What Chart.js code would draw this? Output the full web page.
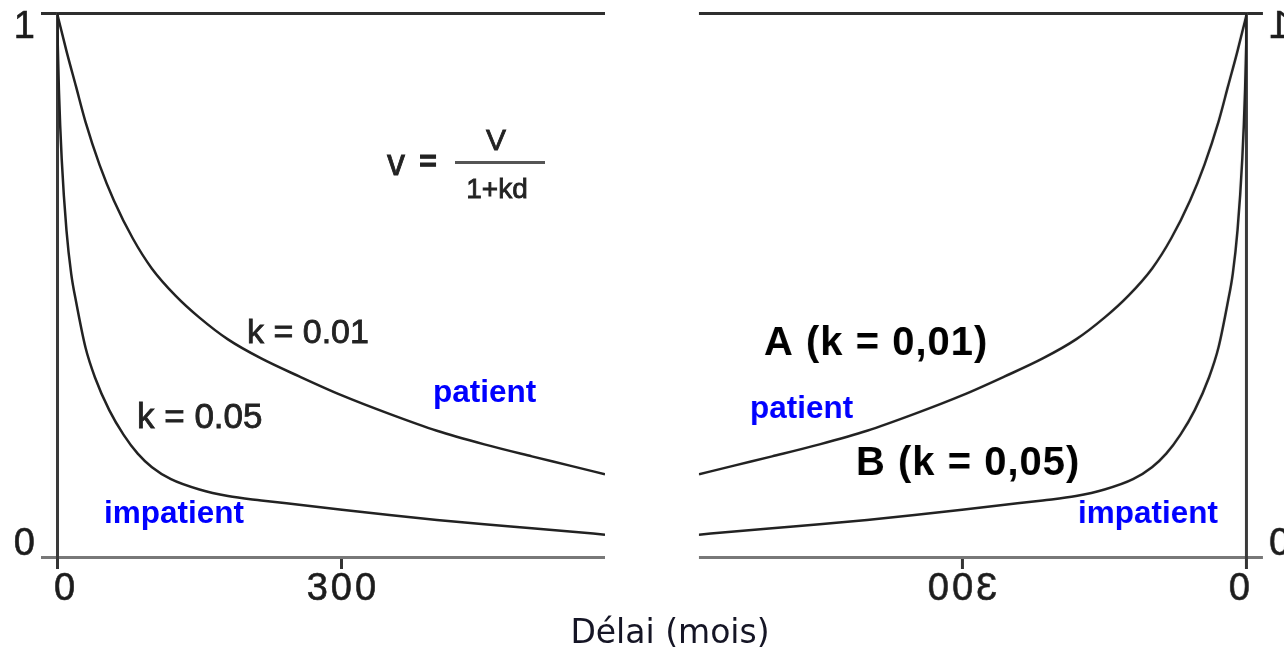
<!DOCTYPE html>
<html>
<head>
<meta charset="utf-8">
<script src="https://cdn.jsdelivr.net/npm/chart.js@4/dist/chart.umd.min.js"></script>
<style>
  html, body { margin: 0; padding: 0; background: #fff; overflow: hidden; }
  body { width: 1284px; height: 653px; position: relative; }
  canvas { position: absolute; top: 0; }
  #left { left: 0; }
  #right { left: 652px; transform: scaleX(-1); }
  #axisTitle {
    position: absolute; left: 560px; top: 612px; width: 220px; text-align: center;
    font: 33px "DejaVu Sans", Verdana, sans-serif; color: #151525; white-space: nowrap;
  }
</style>
</head>
<body>
<canvas id="left" width="652" height="653"></canvas>
<canvas id="right" width="652" height="653"></canvas>
<div id="axisTitle">Délai (mois)</div>
<script>
// Subjective value (0..1) of a reward as a function of its delay in months
const delayPatient   = [0, 10, 20, 30, 45, 60, 80, 100, 125, 150, 180, 215, 255, 300, 350, 400, 450, 500, 540, 577];
const valuePatient   = [1.0, 0.93, 0.865, 0.80, 0.72, 0.655, 0.585, 0.53, 0.48, 0.44, 0.40, 0.365, 0.332, 0.297, 0.263, 0.232, 0.207, 0.185, 0.168, 0.152]; // k = 0.01

const delayImpatient = [0, 2, 5, 10, 15, 20, 30, 40, 55, 70, 85, 100, 120, 150, 180, 215, 255, 300, 350, 400, 450, 500, 540, 577];
const valueImpatient = [1.0, 0.86, 0.73, 0.60, 0.52, 0.47, 0.385, 0.33, 0.27, 0.225, 0.19, 0.165, 0.143, 0.124, 0.112, 0.104, 0.096, 0.087, 0.077, 0.068, 0.060, 0.053, 0.047, 0.041]; // k = 0.05

const xTickValues = [0, 300];
const xTickLabels = ['0', '300'];
const yTickValues = [0, 1];
const yTickLabels = ['0', '1'];
const delayMax = 577;

const CURVE = '#222222';
const BLUE = '#0000ff';
const SCAN_FONT = '"Liberation Sans", Arial, Helvetica, sans-serif';

function series(delays, values) {
  return delays.map((d, i) => ({ x: d, y: values[i] }));
}

// slightly heavier text, like the printed labels of the figure
function heavyText(ctx, text, x, y, w) {
  ctx.lineWidth = w;
  ctx.strokeStyle = ctx.fillStyle;
  ctx.strokeText(text, x, y);
  ctx.fillText(text, x, y);
}

// Tick labels drawn at the scale positions (the right panel is a mirror image, so they flip with it)
const tickLabels = {
  id: 'tickLabels',
  afterDraw(chart) {
    const { ctx, scales: { x, y } } = chart;
    const axisY = y.getPixelForValue(0);
    ctx.save();
    ctx.fillStyle = '#1c1c1c';
    ctx.font = '38px ' + SCAN_FONT;
    ctx.letterSpacing = '3px';
    ctx.textBaseline = 'alphabetic';
    ctx.textAlign = 'center';
    xTickValues.forEach((v, i) => {
      const px = x.getPixelForValue(v) + (v === 0 ? 9 : 1);
      heavyText(ctx, xTickLabels[i], px, axisY + 43, 0.6);
    });
    ctx.textAlign = 'right';
    yTickValues.forEach((v, i) => {
      const py = y.getPixelForValue(v);
      heavyText(ctx, yTickLabels[i], 38, v === 1 ? py + 25 : py - 2, 0.6);
    });
    ctx.restore();
  }
};

// Formula and curve names of the left panel
const leftNotes = {
  id: 'leftNotes',
  afterDraw(chart) {
    const ctx = chart.ctx;
    ctx.save();
    ctx.fillStyle = '#222';
    ctx.textBaseline = 'alphabetic';
    ctx.textAlign = 'center';
    ctx.font = '36px ' + SCAN_FONT;
    heavyText(ctx, 'v', 396, 175, 0.8);
    ctx.font = 'bold 30px ' + SCAN_FONT;
    heavyText(ctx, '=', 428, 171, 1);
    ctx.font = '30px ' + SCAN_FONT;
    heavyText(ctx, 'V', 496, 150, 0.8);
    ctx.font = '28px ' + SCAN_FONT;
    heavyText(ctx, '1+kd', 497, 198, 0.8);
    ctx.strokeStyle = '#555';
    ctx.lineWidth = 3;
    ctx.beginPath();
    ctx.moveTo(455, 162.5);
    ctx.lineTo(545, 162.5);
    ctx.stroke();

    ctx.textAlign = 'left';
    ctx.fillStyle = '#222';
    ctx.font = '34px ' + SCAN_FONT;
    heavyText(ctx, 'k = 0.01', 247, 343, 0.8);
    ctx.font = '35px ' + SCAN_FONT;
    heavyText(ctx, 'k = 0.05', 137, 428, 0.8);

    ctx.fillStyle = BLUE;
    ctx.font = 'bold 31.5px ' + SCAN_FONT;
    ctx.fillText('patient', 433, 402);
    ctx.fillText('impatient', 104, 523);
    ctx.restore();
  }
};

// Curve names of the right panel, drawn un-mirrored on the mirrored canvas
const rightNotes = {
  id: 'rightNotes',
  afterDraw(chart) {
    const ctx = chart.ctx;
    const off = 652;
    ctx.save();
    ctx.translate(chart.width, 0);
    ctx.scale(-1, 1);
    ctx.textAlign = 'left';
    ctx.textBaseline = 'alphabetic';
    ctx.fillStyle = '#000';
    ctx.font = 'bold 40px ' + SCAN_FONT;
    ctx.letterSpacing = '1px';
    ctx.fillText('A (k = 0,01)', 764 - off, 355);
    ctx.fillText('B (k = 0,05)', 856 - off, 475);
    ctx.letterSpacing = '0px';
    ctx.fillStyle = BLUE;
    ctx.font = 'bold 31.5px ' + SCAN_FONT;
    ctx.fillText('patient', 750 - off, 418);
    ctx.fillText('impatient', 1078 - off, 523);
    ctx.restore();
  }
};

function makeChart(canvasId, notes) {
  return new Chart(document.getElementById(canvasId), {
    type: 'line',
    data: {
      datasets: [
        { data: series(delayPatient, valuePatient) },
        { data: series(delayImpatient, valueImpatient) }
      ]
    },
    options: {
      responsive: false,
      animation: false,
      devicePixelRatio: 1,
      parsing: false,
      layout: { padding: { top: 13, right: 47, bottom: 0, left: 0 } },
      elements: {
        line: { borderColor: CURVE, borderWidth: 2.5, cubicInterpolationMode: 'monotone', fill: false },
        point: { radius: 0, hoverRadius: 0 }
      },
      plugins: { legend: { display: false }, tooltip: { enabled: false } },
      scales: {
        x: {
          type: 'linear', min: 0, max: delayMax,
          afterBuildTicks: s => { s.ticks = xTickValues.map(v => ({ value: v })); },
          afterFit: s => { s.height = 96; },
          ticks: { display: false },
          border: { display: false },
          grid: { drawOnChartArea: false, drawTicks: true, tickLength: 12, color: '#333', lineWidth: 3 }
        },
        y: {
          type: 'linear', min: 0, max: 1,
          afterBuildTicks: s => { s.ticks = yTickValues.map(v => ({ value: v })); },
          afterFit: s => { s.width = 57; },
          ticks: { display: false },
          border: { display: true, color: '#3a3a3a', width: 3 },
          grid: {
            drawOnChartArea: true, drawTicks: true, tickLength: 16, lineWidth: 3,
            color: c => (c.tick && c.tick.value === 1 ? '#2e2e2e' : '#787878')
          }
        }
      }
    },
    plugins: [tickLabels, notes]
  });
}

makeChart('left', leftNotes);
makeChart('right', rightNotes);
</script>
</body>
</html>
